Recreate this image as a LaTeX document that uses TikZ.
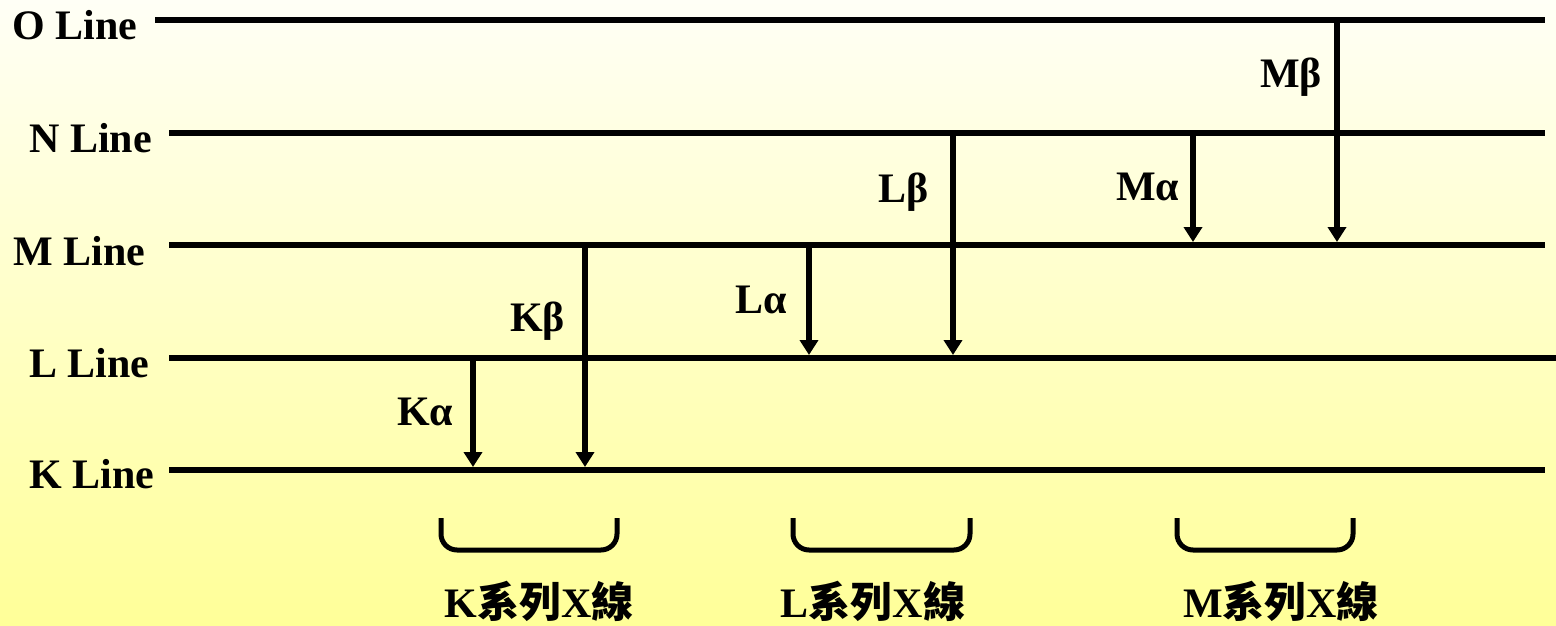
\documentclass[tikz,border=0pt]{standalone}
\usepackage{fontspec}
\setmainfont{Liberation Serif}
\newfontfamily\cjk{Noto Sans CJK TC}
\usetikzlibrary{arrows.meta}
\definecolor{bgtop}{RGB}{255,255,246}
\definecolor{bgbot}{RGB}{255,255,152}
\begin{document}
\begin{tikzpicture}[x=1pt,y=-1pt,
  level/.style={line width=6pt},
  trans/.style={line width=6pt,-{Triangle[width=18pt,length=15pt]}},
  lbl/.style={font=\bfseries\fontsize{42}{48}\selectfont, inner sep=0pt, anchor=base west},
  brace/.style={line width=5pt, rounded corners=16pt},
  series/.style={font=\bfseries\fontsize{42}{48}\selectfont, inner sep=0pt, anchor=base}]
\useasboundingbox (0,0) rectangle (1556,626);
\shade[top color=bgtop, bottom color=bgbot] (0,0) rectangle (1556,626);
% level lines
\coordinate (O1) at (155,20);  \coordinate (O2) at (1545,20);
\coordinate (N1) at (169,133); \coordinate (N2) at (1545,133);
\coordinate (M1) at (169,245); \coordinate (M2) at (1545,245);
\coordinate (L1) at (169,358); \coordinate (L2) at (1556,358);
\coordinate (K1) at (169,470); \coordinate (K2) at (1545,470);
\draw[level] (O1) -- (O2);
\draw[level] (N1) -- (N2);
\draw[level] (M1) -- (M2);
\draw[level] (L1) -- (L2);
\draw[level] (K1) -- (K2);
\node[lbl] (Olab) at (12,40) {O Line};
\node[lbl] (Nlab) at (29,152) {N Line};
\node[lbl] (Mlab) at (13,265) {M Line};
\node[lbl] (Llab) at (29,377) {L Line};
\node[lbl] (Klab) at (29,488) {K Line};
% transitions
\coordinate (ka1) at (473,358); \coordinate (ka2) at (473,467);
\coordinate (kb1) at (585,245); \coordinate (kb2) at (585,467);
\coordinate (la1) at (809,245); \coordinate (la2) at (809,355);
\coordinate (lb1) at (953,133); \coordinate (lb2) at (953,355);
\coordinate (ma1) at (1193,133); \coordinate (ma2) at (1193,242);
\coordinate (mb1) at (1337,20); \coordinate (mb2) at (1337,242);
\draw[trans] (ka1) -- (ka2);
\draw[trans] (kb1) -- (kb2);
\draw[trans] (la1) -- (la2);
\draw[trans] (lb1) -- (lb2);
\draw[trans] (ma1) -- (ma2);
\draw[trans] (mb1) -- (mb2);
\node[lbl] (Ka) at (397,425) {Kα};
\node[lbl] (Kb) at (510,331) {Kβ};
\node[lbl] (La) at (735,313) {Lα};
\node[lbl] (Lb) at (878,202) {Lβ};
\node[lbl] (Ma) at (1116,200) {Mα};
\node[lbl] (Mb) at (1260,88) {Mβ};
% braces
\draw[brace] (441,518) -- (441,550) -- (617,550) -- (617,518);
\draw[brace] (793,518) -- (793,550) -- (970,550) -- (970,518);
\draw[brace] (1177,518) -- (1177,550) -- (1353,550) -- (1353,518);
\node[series] (Ks) at (539,617) {K{\cjk 系列}X{\cjk 線}};
\node[series] (Ls) at (873,617) {L{\cjk 系列}X{\cjk 線}};
\node[series] (Ms) at (1281,617) {M{\cjk 系列}X{\cjk 線}};
\end{tikzpicture}
\end{document}
